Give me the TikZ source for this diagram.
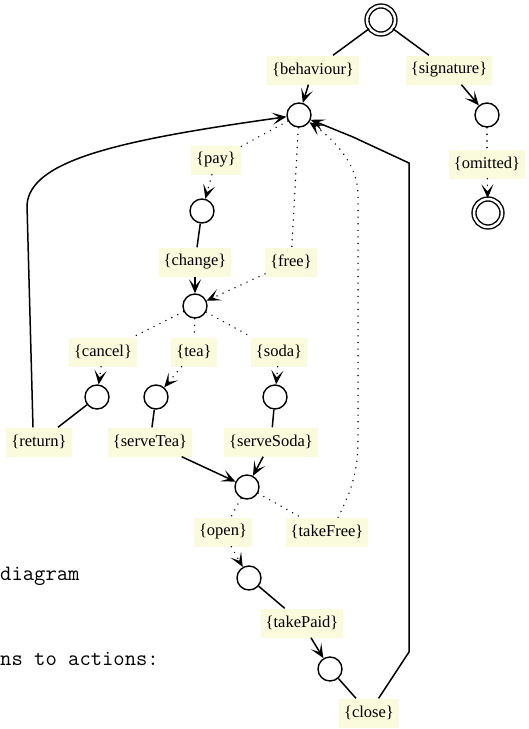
\documentclass[tikz,border=0pt]{standalone}
\usepackage{fontspec}
\setmainfont{Liberation Serif}
\usetikzlibrary{arrows.meta}
\definecolor{labfill}{RGB}{250,250,220}
\begin{document}
\begin{tikzpicture}[x=1pt,y=-1pt,
  lab/.style={fill=labfill, inner xsep=5pt, inner ysep=0pt, minimum height=29pt, font=\fontsize{16.5}{19}\selectfont},
  st/.style={draw, circle, minimum size=24pt, inner sep=0pt, line width=1.4pt},
  fin/.style={draw, circle, minimum size=28pt, inner sep=0pt, line width=1.4pt, double, double distance=2.5pt},
  sol/.style={line width=1.5pt},
  dotl/.style={line width=1.5pt, line cap=round, dash pattern=on 0.1pt off 6.5pt},
  tip/.style={-{Stealth[length=14pt,width=12pt,inset=7pt]}},
  mono/.style={inner sep=0pt, font=\ttfamily\fontsize{22}{26}\selectfont}
]
\useasboundingbox (0,0) rectangle (528,729);

% side text
\node[mono, anchor=base west] (t1) at (0,580) {diagram};
\node[mono, anchor=base west] (t2) at (0,665) {ns to actions:};

% states
\node[fin] (root) at (381,20) {};
\node[st] (c1) at (299,115) {};
\node[st] (c2) at (487,115) {};
\node[fin] (final) at (488,213) {};
\node[st] (cpay) at (202,211) {};
\node[st] (cch) at (195,306) {};
\node[st] (ccan) at (97,397) {};
\node[st] (ctea) at (156,397) {};
\node[st] (csoda) at (275,397) {};
\node[st] (cm) at (247,487) {};
\node[st] (copen) at (249,578) {};
\node[st] (cpaid) at (330,669) {};

% labels
\node[lab] (beh) at (313,70) {\{behaviour\}};
\node[lab] (sig) at (449,70) {\{signature\}};
\node[lab] (omit) at (487,164) {\{omitted\}};
\node[lab] (pay) at (216,160) {\{pay\}};
\node[lab] (change) at (195,262) {\{change\}};
\node[lab] (free) at (291,262) {\{free\}};
\node[lab] (cancel) at (103,352) {\{cancel\}};
\node[lab] (tea) at (194,352) {\{tea\}};
\node[lab] (soda) at (279,352) {\{soda\}};
\node[lab] (ret) at (39,442) {\{return\}};
\node[lab] (stea) at (150,442) {\{serveTea\}};
\node[lab] (ssoda) at (271,442) {\{serveSoda\}};
\node[lab] (open) at (223,532) {\{open\}};
\node[lab] (tfree) at (327,532) {\{takeFree\}};
\node[lab] (tpaid) at (302,623) {\{takePaid\}};
\node[lab] (close) at (369,713) {\{close\}};

% top
\draw[sol] (root) -- (beh);
\draw[sol,tip] (beh) -- (c1);
\draw[sol] (root) -- (sig);
\draw[sol,tip] (sig) -- (c2);
\draw[dotl] (c2) -- (omit);
\draw[dotl,tip] (omit) -- (final);

% pay branch
\draw[dotl] (c1) -- (pay);
\draw[dotl,tip] (pay) -- (cpay);
\draw[sol] (cpay) -- (change);
\draw[sol,tip] (change) -- (cch);
\draw[dotl] (c1) -- (free);
\draw[dotl,tip] (free) -- (cch);

% choices
\draw[dotl] (cch) -- (cancel);
\draw[dotl] (cch) -- (tea);
\draw[dotl] (cch) -- (soda);
\draw[dotl,tip] (cancel) -- (ccan);
\draw[dotl,tip] (tea) -- (ctea);
\draw[dotl,tip] (soda) -- (csoda);
\draw[sol] (ccan) -- (ret);
\draw[sol] (ctea) -- (stea);
\draw[sol] (csoda) -- (ssoda);
\draw[sol,tip] (stea) -- (cm);
\draw[sol,tip] (ssoda) -- (cm);

% return loop
\coordinate (r1) at (27,205);
\draw[sol,tip] ([xshift=-6pt]ret.north) -- (r1) .. controls (30,160) and (120,140) .. (c1);

% merge
\draw[dotl] (cm) -- (open);
\draw[dotl] (cm) -- (tfree);
\draw[dotl,tip] (open) -- (copen);
\draw[sol] (copen) -- (tpaid);
\draw[sol,tip] (tpaid) -- (cpaid);
\draw[sol] (cpaid) -- (close);

% takeFree loop
\coordinate (f1) at (358,440);
\coordinate (f2) at (358,195);
\draw[dotl,tip] ([xshift=11pt]tfree.north) .. controls (352,490) and (358,470) .. (f1) -- (f2) .. controls (358,165) and (335,140) .. (c1);

% close loop
\coordinate (k1) at (409,652);
\coordinate (k2) at (409,163);
\coordinate (k3) at (353,137);
\draw[sol,tip] (close) -- (k1) -- (k2) -- (k3) -- (c1);
\end{tikzpicture}
\end{document}
